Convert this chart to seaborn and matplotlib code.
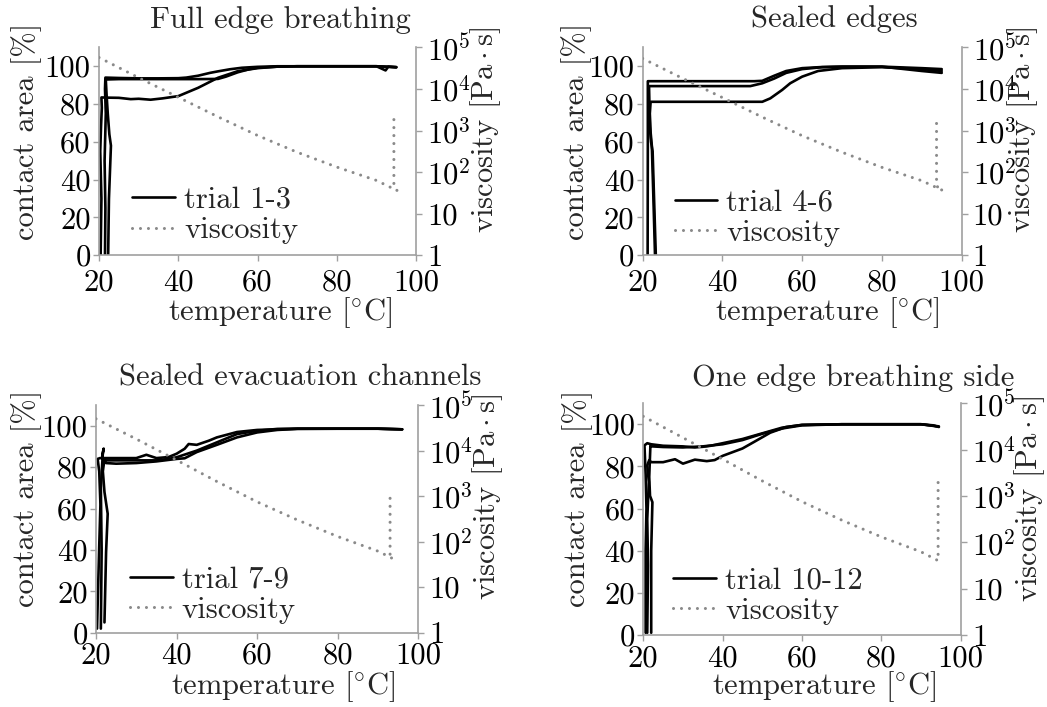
import numpy as np
import pandas as pd
import seaborn as sns
import matplotlib
matplotlib.use("Agg")
import matplotlib.pyplot as plt

# ---------------- data ----------------
titles = ["Full edge breathing", "Sealed edges",
          "Sealed evacuation channels", "One edge breathing side"]
legend_labels = ["trial 1-3", "trial 4-6", "trial 7-9", "trial 10-12"]

# panel 1 : Full edge breathing
p1_t1_temp = [21.5, 21.6, 21.4, 21.7, 21.5, 21.6, 25, 30, 35, 40, 42, 45, 48, 50, 53, 56, 60, 65, 70, 80, 90, 95]
p1_t1_area = [0, 25, 50, 75, 88, 94.0, 93.8, 93.6, 93.6, 93.7, 94.0, 95.0, 96.5, 97.3, 98.4, 99.2, 99.7, 100, 100, 100, 100, 99.6]
p1_t2_temp = [22.3, 22.5, 23.0, 22.6, 22.2, 21.9, 21.7, 25, 30, 35, 40, 45, 50, 52, 55, 58, 60, 65, 70, 80, 90, 92.3, 93, 95]
p1_t2_area = [0, 30, 58, 64, 75, 85, 93, 93.2, 93.2, 93.2, 93.2, 93.2, 93.3, 94.5, 96.8, 98.5, 99.2, 99.8, 100, 100, 100, 97.8, 99.8, 99.4]
p1_t3_temp = [20.4, 20.6, 20.3, 20.5, 20.7, 20.6, 22, 25, 28, 30, 33, 36, 40, 45, 50, 55, 60, 65, 70, 80, 90, 95]
p1_t3_area = [0, 30, 55, 68, 78, 83.5, 83.4, 83.3, 82.6, 82.8, 82.3, 83.0, 84.2, 88.6, 93.9, 97.4, 99.0, 99.8, 100, 100, 100, 99.5]

# panel 2 : Sealed edges
p2_t1_temp = [21.25, 21.3, 21.3, 25, 30, 40, 48, 50, 53, 56, 60, 65, 70, 80, 90, 95]
p2_t1_area = [0, 60, 92.1, 92.1, 92.1, 92.1, 92.1, 92.3, 95.0, 97.5, 99.0, 99.6, 99.8, 99.8, 99.0, 98.5]
p2_t2_temp = [23.3, 22.5, 22.1, 21.8, 21.7, 21.6, 25, 30, 40, 47, 50, 53, 56, 60, 65, 70, 80, 90, 95]
p2_t2_area = [0, 55, 60, 68, 80, 89.5, 89.5, 89.5, 89.5, 89.5, 91.0, 93.5, 96.5, 98.5, 99.5, 99.8, 99.8, 97.5, 96.5]
p2_t3_temp = [23.1, 22.7, 22.3, 22.0, 21.8, 22.0, 25, 30, 40, 50, 52, 55, 57, 60, 64, 70, 80, 90, 95]
p2_t3_area = [0, 30, 58, 65, 75, 81.2, 81.2, 81.2, 81.2, 81.2, 83.0, 87.5, 91.0, 94.5, 97.5, 99.0, 99.5, 98.5, 97.5]

# panel 3 : Sealed evacuation channels
p3_t1_temp = [20.25, 20.8, 21.1, 20.8, 20.4, 21.0, 22, 25, 30, 32.5, 35, 38, 40, 42, 43, 45, 48, 50, 55, 60, 70, 80, 90, 96]
p3_t1_area = [2, 42, 62, 78, 84, 84.4, 84.4, 84.4, 84.4, 86.0, 84.4, 84.9, 86.5, 88.9, 91.2, 90.8, 92.8, 94.4, 97.0, 98.0, 98.6, 98.6, 98.6, 98.3]
p3_t2_temp = [21.2, 21.4, 21.2, 21.7, 21.9, 21.5, 22, 25, 30, 35, 38, 40, 45, 50, 55, 60, 65, 70, 80, 90, 96]
p3_t2_area = [2, 40, 70, 87, 89, 84.5, 83.3, 83.3, 83.3, 83.3, 84.0, 84.8, 88.0, 92.0, 96.0, 97.6, 98.5, 98.6, 98.6, 98.6, 98.3]
p3_t3_temp = [22.1, 22.5, 22.9, 22.1, 21.7, 22.1, 22.5, 25, 30, 35, 40, 42, 45, 50, 55, 60, 65, 70, 80, 90, 96]
p3_t3_area = [5, 39, 57.5, 68, 78, 84, 82, 81.7, 82.0, 82.8, 84.0, 84.3, 87.3, 90.8, 94.4, 96.8, 98.0, 98.5, 98.6, 98.6, 98.3]

# panel 4 : One edge breathing side
p4_t1_temp = [20.6, 20.6, 20.8, 20.6, 20.3, 21, 22, 25, 30, 33, 35, 37, 40, 45, 50, 55, 60, 70, 80, 90, 93, 94.5]
p4_t1_area = [1, 40, 60, 76, 90, 91, 90.5, 89.8, 89.5, 89.0, 89.3, 89.8, 91.0, 93.0, 95.7, 98.4, 99.7, 100, 100, 100, 99.5, 98.7]
p4_t2_temp = [21.0, 21.2, 21.0, 21.4, 21.0, 21.5, 22, 25, 28, 30, 33, 36, 38, 40, 45, 48, 52, 56, 60, 70, 80, 90, 94.5]
p4_t2_area = [1, 33, 55, 72.6, 80.5, 83, 82, 82, 83.4, 81.3, 83.2, 82.5, 83.0, 85.0, 88.5, 91.7, 96.0, 98.7, 99.7, 100, 100, 100, 99.0]
p4_t3_temp = [22.0, 22.0, 22.3, 21.7, 21.5, 21.8, 22.2, 25, 30, 35, 40, 45, 50, 55, 60, 70, 80, 90, 94]
p4_t3_area = [1, 40, 63, 66, 75, 90, 89.5, 89.2, 89.0, 89.5, 90.5, 92.5, 95.5, 98.0, 99.5, 100, 100, 100, 99.0]

# viscosity [Pa s] vs temperature (heating ramp, then hold at end temperature)
p1_visc_temp = [20, 30, 40, 50, 60, 70, 80, 90, 95.2, 94.4, 94.4, 94.4]
p1_visc_val = [5.7e4, 1.86e4, 6.3e3, 2.14e3, 7.6e2, 3.0e2, 1.32e2, 63, 36, 45, 200, 2.3e3]
p2_visc_temp = [20, 30, 40, 50, 60, 70, 80, 90, 95.3, 93.7, 93.7, 93.7]
p2_visc_val = [5.4e4, 1.8e4, 6.2e3, 2.1e3, 7.5e2, 3.0e2, 1.3e2, 62, 36, 46, 200, 1.95e3]
p3_visc_temp = [20, 30, 40, 50, 60, 70, 80, 90, 93.8, 93.0, 93.0, 93.0]
p3_visc_val = [5.0e4, 1.8e4, 6.2e3, 2.1e3, 7.5e2, 3.0e2, 1.3e2, 62, 42, 50, 200, 1.25e3]
p4_visc_temp = [20, 30, 40, 50, 60, 70, 80, 90, 94.3, 94.3, 94.3, 94.3]
p4_visc_val = [5.2e4, 1.8e4, 6.2e3, 2.1e3, 7.5e2, 3.0e2, 1.3e2, 62, 40, 45, 200, 2.2e3]

panels = [
    [(p1_t1_temp, p1_t1_area), (p1_t2_temp, p1_t2_area), (p1_t3_temp, p1_t3_area)],
    [(p2_t1_temp, p2_t1_area), (p2_t2_temp, p2_t2_area), (p2_t3_temp, p2_t3_area)],
    [(p3_t1_temp, p3_t1_area), (p3_t2_temp, p3_t2_area), (p3_t3_temp, p3_t3_area)],
    [(p4_t1_temp, p4_t1_area), (p4_t2_temp, p4_t2_area), (p4_t3_temp, p4_t3_area)],
]
viscs = [(p1_visc_temp, p1_visc_val), (p2_visc_temp, p2_visc_val),
         (p3_visc_temp, p3_visc_val), (p4_visc_temp, p4_visc_val)]

area_ticks = [0, 20, 40, 60, 80, 100]
temp_ticks = [20, 40, 60, 80, 100]
visc_ticks = [1, 10, 100, 1e3, 1e4, 1e5]
visc_ticklabels = ["1", "10", r"$10^2$", r"$10^3$", r"$10^4$", r"$10^5$"]

# ---------------- style ----------------
sns.set_style("ticks")
plt.rcParams["font.family"] = ["cmr10", "DejaVu Serif"]
plt.rcParams["mathtext.fontset"] = "cm"
plt.rcParams["axes.formatter.use_mathtext"] = True
plt.rcParams["axes.unicode_minus"] = False

FS = 22
SPINE = "#a0a0a0"
VISC = "#8a8a8a"

fig = plt.figure(figsize=(10.47, 7.07), dpi=100)

# axes placement [left, bottom, width, height] (figure fraction)
positions = [
    [0.0946, 0.639, 0.3028, 0.294],
    [0.6138, 0.639, 0.3047, 0.294],
    [0.0917, 0.105, 0.3078, 0.322],
    [0.6144, 0.102, 0.3032, 0.3277],
]
title_xy = [(0.571, 1.095), (0.60, 1.097), (0.633, 1.088), (0.661, 1.075)]
xlabel_xy = [(0.571, -0.19), (0.58, -0.19), (0.581, -0.158), (0.57, -0.148)]
ylabel_xy = [(-0.18, 0.596), (-0.16, 0.596), (-0.168, 0.59), (-0.158, 0.59)]
y2label_xy = [(1.165, 0.606), (1.136, 0.606), (1.16, 0.597), (1.162, 0.59)]
legend_xy = [(0.105, 0.192), (0.10, 0.18), (0.105, 0.165), (0.095, 0.168)]
xtick_pad = [6, 6, 3, 3]

for i in range(4):
    ax = fig.add_axes(positions[i])
    ax2 = ax.twinx()
    ax2.set_yscale("log")

    for (tt, aa) in panels[i]:
        sns.lineplot(x=tt, y=aa, ax=ax, sort=False, estimator=None,
                     color="black", linewidth=1.9, legend=False)
    trial_line = ax.get_lines()[0]

    vt, vv = viscs[i]
    sns.lineplot(x=vt, y=vv, ax=ax2, sort=False, estimator=None,
                 color=VISC, linewidth=2.2, linestyle=(0, (0.01, 2.6)),
                 dash_capstyle="round", legend=False)
    visc_line = ax2.get_lines()[0]

    ax.set_xlim(20, 100)
    ax.set_ylim(0, 110)
    ax2.set_ylim(1, 1e5)
    ax.set_xticks(temp_ticks)
    ax.set_xticklabels([str(t) for t in temp_ticks])
    ax.set_yticks(area_ticks)
    ax.set_yticklabels([str(a) for a in area_ticks])
    ax2.set_yticks(visc_ticks)
    ax2.set_yticklabels(visc_ticklabels)
    ax2.minorticks_off()

    for a in (ax, ax2):
        a.spines["top"].set_visible(False)
        for s in ("left", "right", "bottom"):
            a.spines[s].set_color(SPINE)
            a.spines[s].set_linewidth(1.2)
        a.tick_params(colors=SPINE, labelcolor="black", labelsize=FS,
                      length=4, width=1.0, direction="out")
    ax.spines["right"].set_visible(False)
    ax2.spines["left"].set_visible(False)
    ax2.spines["bottom"].set_visible(False)
    ax.tick_params(axis="y", pad=2)
    ax.tick_params(axis="x", pad=xtick_pad[i])
    ax2.tick_params(axis="y", pad=4)

    ax.set_xlabel(r"temperature $[^{\circ}\mathrm{C}]$", fontsize=FS)
    ax.xaxis.set_label_coords(*xlabel_xy[i])
    ax.set_ylabel("contact area [%]", fontsize=FS)
    ax.yaxis.set_label_coords(*ylabel_xy[i])
    ax2.set_ylabel(r"viscosity $[\mathrm{Pa}\cdot\mathrm{s}]$", fontsize=FS, rotation=90)
    ax2.yaxis.set_label_coords(*y2label_xy[i])

    ax.text(title_xy[i][0], title_xy[i][1], titles[i], transform=ax.transAxes,
            ha="center", va="baseline", fontsize=FS)

    ax2.legend([trial_line, visc_line], [legend_labels[i], "viscosity"],
               loc="center left", bbox_to_anchor=legend_xy[i], frameon=False,
               fontsize=FS, handlelength=1.4, handletextpad=0.3,
               labelspacing=0.1, borderpad=0, borderaxespad=0)

fig.savefig("out.png", dpi=100)
